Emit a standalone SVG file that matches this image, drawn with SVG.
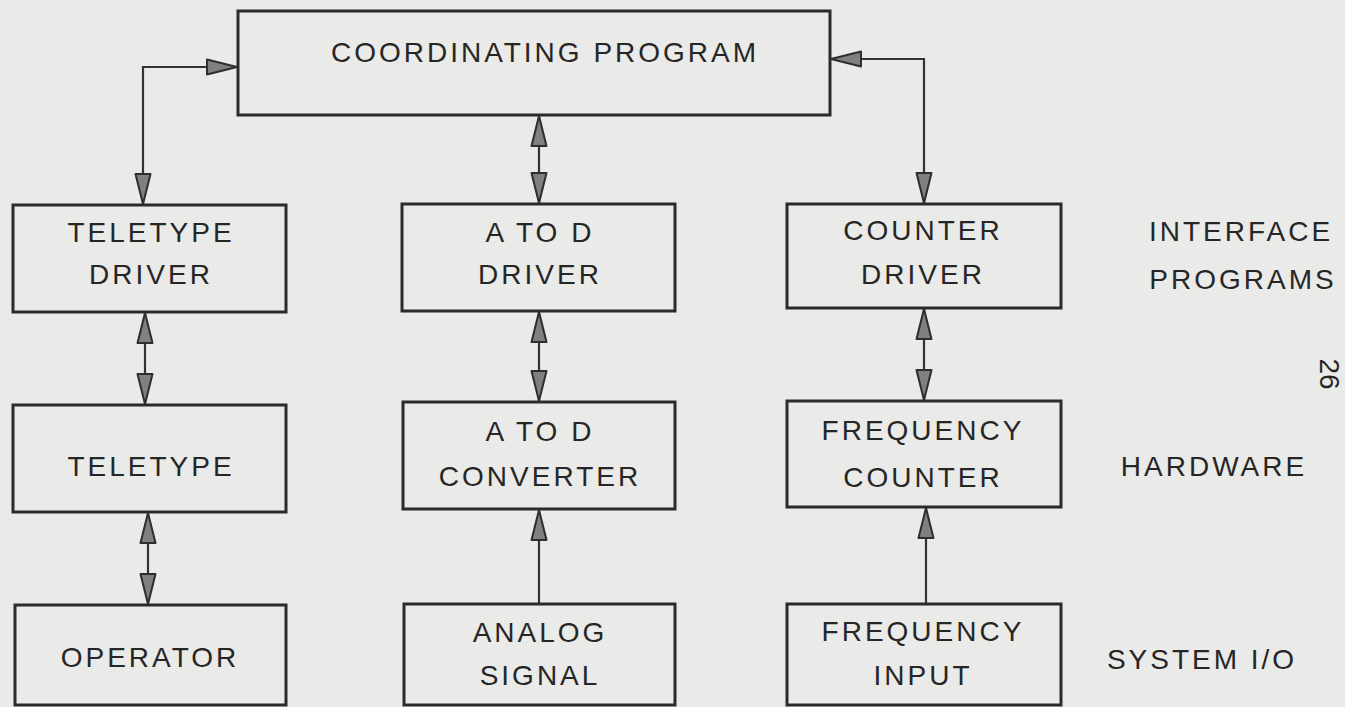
<svg xmlns="http://www.w3.org/2000/svg" width="1345" height="707" viewBox="0 0 1345 707">
<defs>
<style>
.bx{fill:none;stroke:#2b2b2b;stroke-width:3}
.t{font-family:"Liberation Sans",Arial,sans-serif;font-size:28px;letter-spacing:3px;fill:#262626;text-anchor:middle}
.c{fill:none;stroke:#333;stroke-width:2.2}
</style>
<marker id="ah" markerUnits="userSpaceOnUse" markerWidth="34" markerHeight="22" refX="31" refY="10" orient="auto-start-reverse" viewBox="0 0 34 22">
<path d="M1,2.5 L31,10 L1,17.5 Z" fill="#808080" stroke="#2e2e2e" stroke-width="2" stroke-linejoin="round"/>
</marker>
</defs>
<rect width="1345" height="707" fill="#eaeae8"/>
<g id="connectors">
<path class="c" d="M143,204 V67 H237" marker-start="url(#ah)" marker-end="url(#ah)"/>
<path class="c" d="M924,203 V59 H831" marker-start="url(#ah)" marker-end="url(#ah)"/>
<path class="c" d="M539,116 V203" marker-start="url(#ah)" marker-end="url(#ah)"/>
<path class="c" d="M145,313 V404" marker-start="url(#ah)" marker-end="url(#ah)"/>
<path class="c" d="M539,312 V401" marker-start="url(#ah)" marker-end="url(#ah)"/>
<path class="c" d="M924,309 V400" marker-start="url(#ah)" marker-end="url(#ah)"/>
<path class="c" d="M148,513 V604" marker-start="url(#ah)" marker-end="url(#ah)"/>
<path class="c" d="M539,604 V510" marker-end="url(#ah)"/>
<path class="c" d="M926,604 V508" marker-end="url(#ah)"/>
</g>
<g id="coordinating">
<rect class="bx" x="238" y="11" width="592" height="104"/>
<text class="t" x="545" y="62">COORDINATING PROGRAM</text>
</g>
<g id="teletype-driver">
<rect class="bx" x="13" y="205" width="273" height="107"/>
<text class="t" x="151" y="242">TELETYPE</text>
<text class="t" x="151" y="284">DRIVER</text>
</g>
<g id="atod-driver">
<rect class="bx" x="402" y="204" width="273" height="107"/>
<text class="t" x="540" y="242">A TO D</text>
<text class="t" x="540" y="284">DRIVER</text>
</g>
<g id="counter-driver">
<rect class="bx" x="787" y="204" width="274" height="104"/>
<text class="t" x="923" y="240">COUNTER</text>
<text class="t" x="923" y="284">DRIVER</text>
</g>
<g id="teletype">
<rect class="bx" x="13" y="405" width="273" height="107"/>
<text class="t" x="151" y="476">TELETYPE</text>
</g>
<g id="atod-converter">
<rect class="bx" x="403" y="402" width="272" height="107"/>
<text class="t" x="540" y="441">A TO D</text>
<text class="t" x="540" y="486">CONVERTER</text>
</g>
<g id="frequency-counter">
<rect class="bx" x="787" y="401" width="274" height="106"/>
<text class="t" x="923" y="440">FREQUENCY</text>
<text class="t" x="923" y="487">COUNTER</text>
</g>
<g id="operator">
<rect class="bx" x="15" y="605" width="271" height="100"/>
<text class="t" x="150" y="667">OPERATOR</text>
</g>
<g id="analog-signal">
<rect class="bx" x="404" y="604" width="271" height="101"/>
<text class="t" x="540" y="642">ANALOG</text>
<text class="t" x="540" y="685">SIGNAL</text>
</g>
<g id="frequency-input">
<rect class="bx" x="787" y="604" width="274" height="101"/>
<text class="t" x="923" y="641">FREQUENCY</text>
<text class="t" x="923" y="685">INPUT</text>
</g>
<g id="labels">
<text class="t" x="1241" y="241">INTERFACE</text>
<text class="t" x="1243" y="289">PROGRAMS</text>
<text class="t" x="1214" y="476">HARDWARE</text>
<text class="t" x="1202" y="669">SYSTEM I/O</text>
<text class="t" transform="translate(1320,374) rotate(90)" x="0" y="0" style="letter-spacing:0">26</text>
</g>
</svg>
